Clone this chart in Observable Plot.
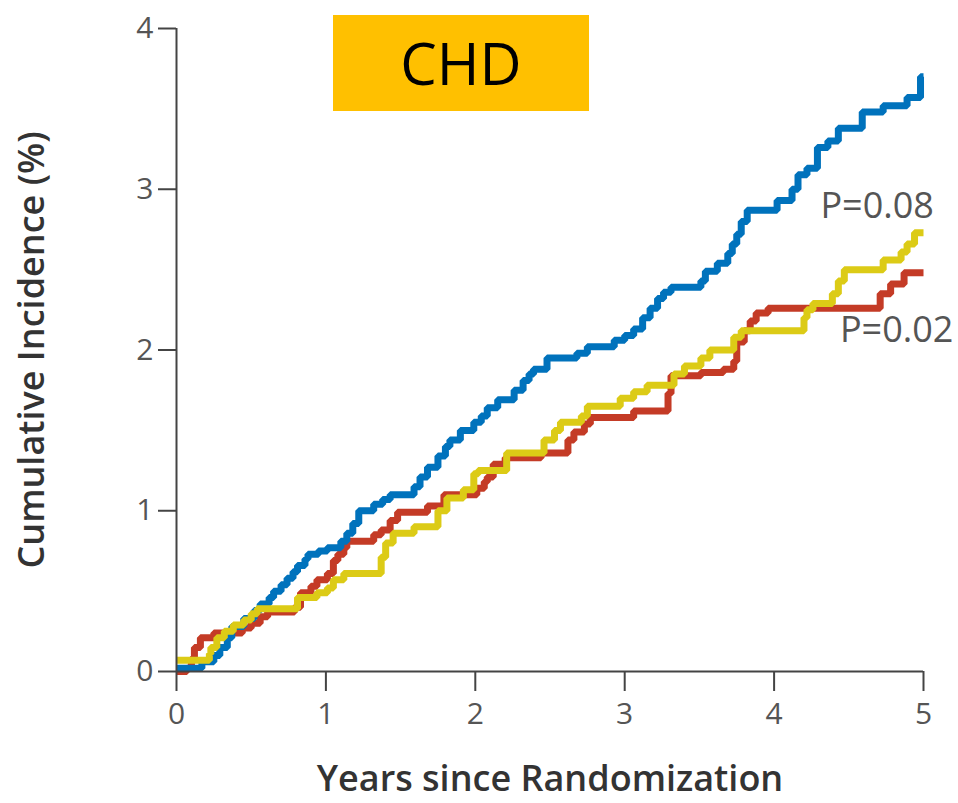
<!DOCTYPE html>
<html><head><meta charset="utf-8">
<script src="https://cdn.jsdelivr.net/npm/d3@7"></script>
<script src="https://cdn.jsdelivr.net/npm/@observablehq/plot@0.6"></script>
<style>
html,body{margin:0;padding:0;background:#fff;}
#wrap{position:relative;width:958px;height:803px;overflow:hidden;}
#badge{position:absolute;left:333px;top:15px;width:256px;height:96px;background:#FFC000;color:#000;
 font-family:"Open Sans",sans-serif;font-size:58px;line-height:96px;text-align:center;}
</style></head>
<body><div id="wrap"><div id="badge">CHD</div></div>
<script>
const xTicks = [0,1,2,3,4,5];
const yTicks = [0,1,2,3,4];
const blue = [[0,0.02],[0.17,0.06],[0.25,0.10],[0.29,0.15],[0.34,0.21],[0.37,0.28],[0.45,0.33],[0.52,0.38],[0.56,0.42],[0.62,0.46],[0.65,0.50],[0.70,0.54],[0.74,0.58],[0.78,0.62],[0.81,0.66],[0.86,0.70],[0.88,0.73],[0.95,0.75],[1.01,0.77],[1.10,0.81],[1.14,0.86],[1.18,0.92],[1.22,1.00],[1.32,1.04],[1.38,1.07],[1.43,1.10],[1.59,1.15],[1.63,1.21],[1.68,1.27],[1.75,1.34],[1.80,1.40],[1.83,1.44],[1.90,1.50],[1.99,1.55],[2.04,1.59],[2.08,1.64],[2.15,1.69],[2.26,1.75],[2.32,1.81],[2.36,1.85],[2.39,1.88],[2.48,1.95],[2.68,1.98],[2.75,2.02],[2.93,2.06],[3.00,2.09],[3.06,2.13],[3.12,2.20],[3.17,2.26],[3.22,2.32],[3.26,2.36],[3.31,2.39],[3.51,2.43],[3.54,2.49],[3.62,2.54],[3.69,2.60],[3.72,2.66],[3.75,2.72],[3.78,2.80],[3.82,2.87],[4.02,2.93],[4.12,3.00],[4.16,3.09],[4.22,3.13],[4.29,3.26],[4.36,3.30],[4.43,3.38],[4.59,3.48],[4.73,3.52],[4.89,3.57],[4.98,3.70],[5.0,3.70]];
const red = [[0,0.0],[0.07,0.02],[0.10,0.08],[0.12,0.15],[0.16,0.21],[0.25,0.24],[0.44,0.27],[0.50,0.30],[0.56,0.34],[0.61,0.37],[0.79,0.40],[0.83,0.49],[0.90,0.53],[0.94,0.57],[1.01,0.61],[1.05,0.69],[1.08,0.73],[1.12,0.77],[1.14,0.81],[1.32,0.85],[1.37,0.88],[1.43,0.94],[1.48,0.99],[1.68,1.03],[1.79,1.10],[2.01,1.14],[2.06,1.18],[2.08,1.21],[2.12,1.29],[2.20,1.33],[2.44,1.36],[2.62,1.44],[2.66,1.49],[2.73,1.54],[2.77,1.58],[3.06,1.62],[3.29,1.73],[3.31,1.84],[3.51,1.86],[3.66,1.88],[3.73,1.93],[3.75,2.05],[3.80,2.12],[3.84,2.18],[3.88,2.23],[3.96,2.26],[4.71,2.35],[4.78,2.41],[4.87,2.48],[5.0,2.48]];
const yellow = [[0,0.07],[0.22,0.11],[0.23,0.15],[0.27,0.21],[0.32,0.25],[0.38,0.29],[0.45,0.32],[0.50,0.36],[0.54,0.39],[0.81,0.46],[0.94,0.49],[1.01,0.52],[1.05,0.57],[1.12,0.61],[1.37,0.71],[1.40,0.80],[1.45,0.86],[1.59,0.90],[1.75,1.00],[1.81,1.08],[1.92,1.13],[1.99,1.23],[2.02,1.25],[2.21,1.36],[2.46,1.44],[2.53,1.50],[2.57,1.55],[2.71,1.59],[2.75,1.65],[2.97,1.70],[3.06,1.74],[3.15,1.78],[3.33,1.85],[3.40,1.90],[3.51,1.95],[3.57,2.00],[3.73,2.08],[3.78,2.12],[4.20,2.20],[4.22,2.25],[4.26,2.29],[4.39,2.35],[4.43,2.43],[4.47,2.50],[4.73,2.56],[4.85,2.61],[4.89,2.66],[4.94,2.73],[5.0,2.73]];
const pLabels = ["P=0.08","P=0.02"];
const pX = [4.69,4.82];
const pY = [2.89,2.12];

const lineStyle = {x:d=>d[0], y:d=>d[1], curve:"step-after", strokeWidth:7, strokeLinejoin:"miter", strokeLinecap:"butt"};
const ann = pLabels.map((t,i)=>({t, x:pX[i], y:pY[i]}));

const chart = Plot.plot({
  width:958, height:803,
  marginLeft:176, marginRight:35, marginTop:28, marginBottom:132,
  style:{fontFamily:"'Open Sans', sans-serif", background:"transparent", overflow:"visible"},
  x:{domain:[0,5]},
  y:{domain:[0,4]},
  marks:[
    Plot.line(red, {...lineStyle, stroke:"#C43B26"}),
    Plot.line(blue, {...lineStyle, stroke:"#0072BC"}),
    Plot.line(yellow, {...lineStyle, stroke:"#DCCB16"}),
    Plot.ruleY([0], {stroke:"#444", strokeWidth:2}),
    Plot.ruleX([0], {stroke:"#444", strokeWidth:2}),
    Plot.axisX({ticks:xTicks, tickSize:20, tickPadding:11, stroke:"#444", strokeWidth:2, fontSize:30, color:"#555", label:null, tickFormat:d=>String(d)}),
    Plot.axisY({ticks:yTicks, tickSize:18, tickPadding:5, stroke:"#444", strokeWidth:2, fontSize:30, color:"#555", label:null, tickFormat:d=>String(d)}),
    Plot.text(["Years since Randomization"], {frameAnchor:"bottom", dy:119, fontSize:36, fontWeight:600, fill:"#333"}),
    Plot.text(["Cumulative Incidence (%)"], {frameAnchor:"left", dx:-144, textAnchor:"middle", rotate:-90, fontSize:36, fontWeight:600, fill:"#333"}),
    Plot.text(ann, {x:"x", y:"y", text:"t", textAnchor:"middle", fontSize:36, fill:"#555"})
  ]
});
document.getElementById("wrap").prepend(chart);
chart.style.position="absolute"; chart.style.left="0"; chart.style.top="0";
document.getElementById("badge").style.zIndex = 2;
</script></body></html>
